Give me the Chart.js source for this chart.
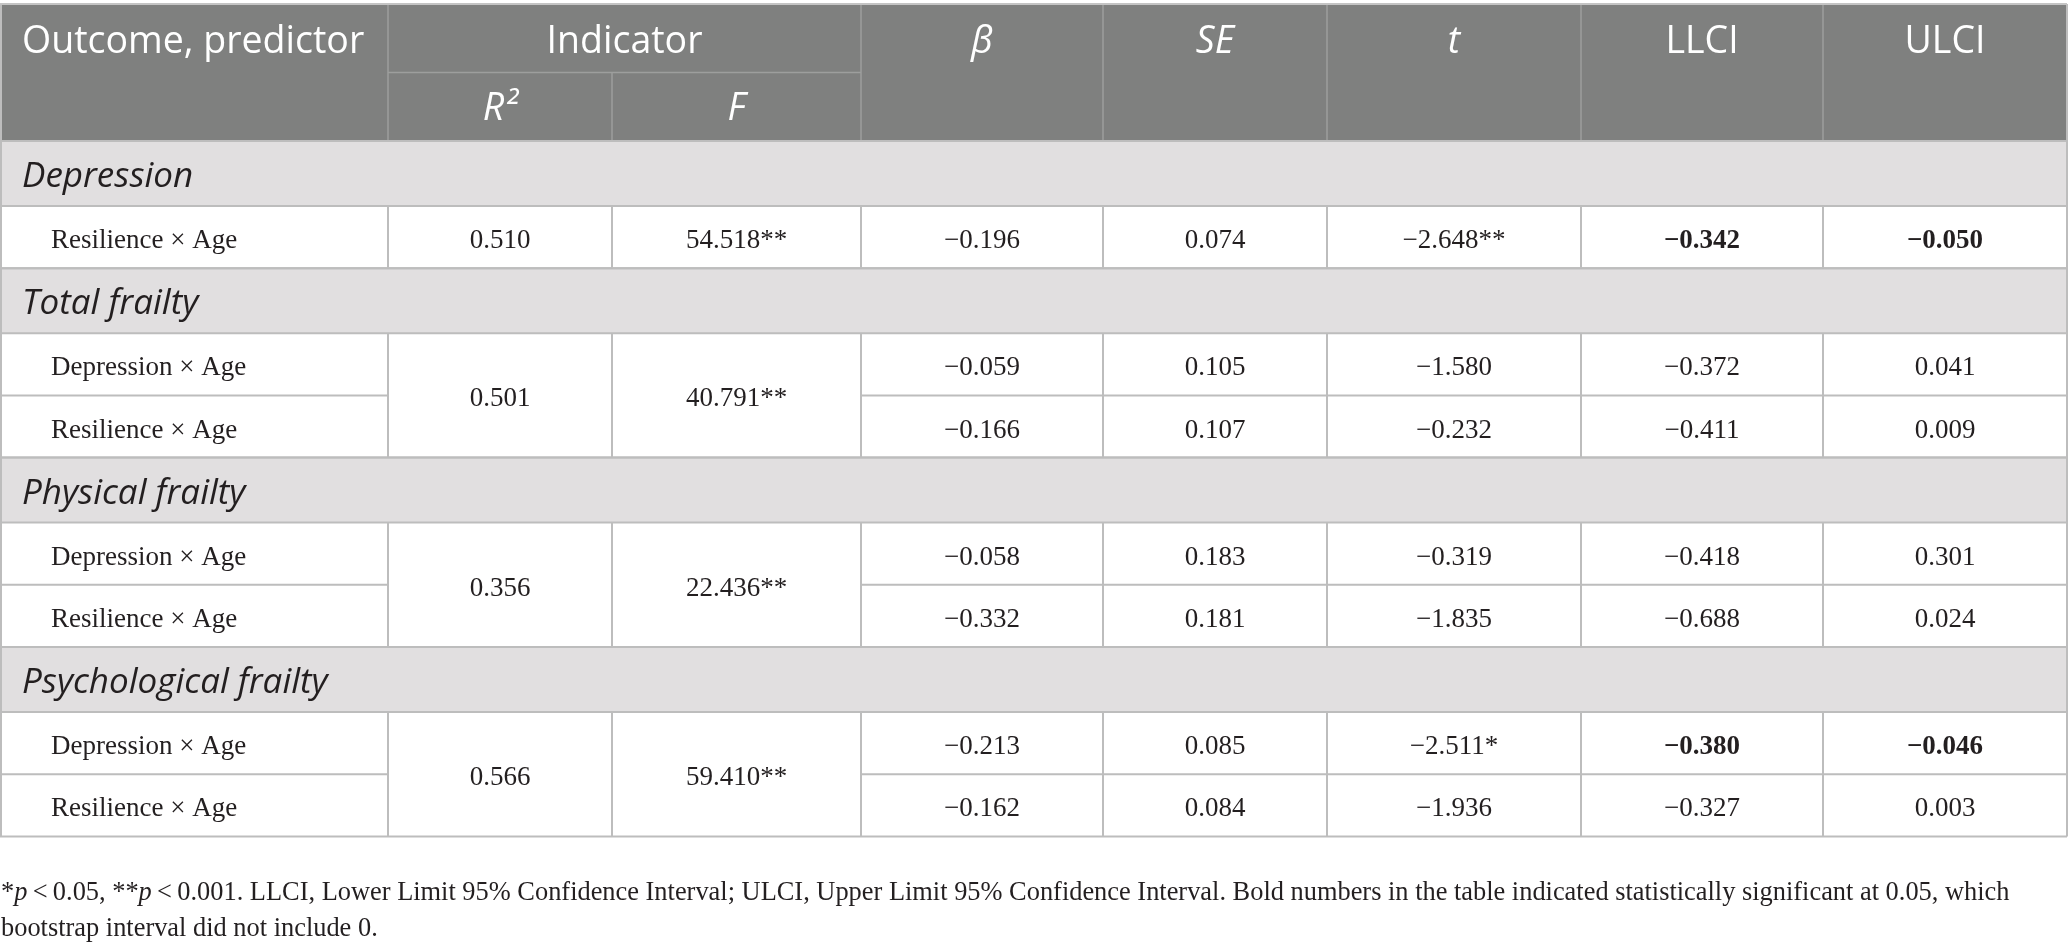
<!DOCTYPE html>
<html>
<head>
<meta charset="utf-8">
<script src="https://cdn.jsdelivr.net/npm/chart.js@4.4.1/dist/chart.umd.min.js"></script>
<style>
    html, body { margin: 0; padding: 0; background: #ffffff; }
    #wrap { width: 2068px; height: 951px; position: relative; }
</style>
</head>
<body>
<div id="wrap"><canvas id="tableChart"></canvas></div>
<script>
// table content
const headerTop = ["Outcome, predictor", "Indicator", "β", "SE", "t", "LLCI", "ULCI"];
const headerSub = ["R²", "F"];
const groups = ["Depression", "Total frailty", "Physical frailty", "Psychological frailty"];
const predictors = [
    ["Resilience × Age"],
    ["Depression × Age", "Resilience × Age"],
    ["Depression × Age", "Resilience × Age"],
    ["Depression × Age", "Resilience × Age"]
];
const rSquared = [0.510, 0.501, 0.356, 0.566];
const fValues = [54.518, 40.791, 22.436, 59.410];
const fStars = ["**", "**", "**", "**"];
const betas = [[-0.196], [-0.059, -0.166], [-0.058, -0.332], [-0.213, -0.162]];
const seValues = [[0.074], [0.105, 0.107], [0.183, 0.181], [0.085, 0.084]];
const tValues = [[-2.648], [-1.580, -0.232], [-0.319, -1.835], [-2.511, -1.936]];
const tStars = [["**"], ["", ""], ["", ""], ["*", ""]];
const llci = [[-0.342], [-0.372, -0.411], [-0.418, -0.688], [-0.380, -0.327]];
const ulci = [[-0.050], [0.041, 0.009], [0.301, 0.024], [-0.046, 0.003]];
const significant = [[true], [false, false], [false, false], [true, false]];
const footnote = [
    [["*"], ["p", "i"], ["\u2009<\u20090.05, **"], ["p", "i"],
     ["\u2009<\u20090.001. LLCI, Lower Limit 95% Confidence Interval; ULCI, Upper Limit 95% Confidence Interval. Bold numbers in the table indicated statistically significant at 0.05, which"]],
    [["bootstrap interval did not include 0."]]
];

// layout (in table units, mapped through the chart scales)
const colEdges = [0, 388, 612, 861, 1103, 1327, 1581, 1823, 2067];
const tableTop = 4;
const headerSplit = 72.5;
const headerBottom = 141;
const groupHeight = 65;
const rowHeight = 62.2;

const fmt = v => (v < 0 ? "\u2212" : "") + Math.abs(v).toFixed(3);

const serif = "'Liberation Serif', 'Times New Roman', serif";
const sans = "'Open Sans', 'Noto Sans', sans-serif";
const textColor = "#231f20";
const borderColor = "#bdbdbd";

const tablePainter = {
    id: "tablePainter",
    afterDraw(chart) {
        const ctx = chart.ctx;
        const sx = chart.scales.x;
        const sy = chart.scales.y;
        const X = v => sx.getPixelForValue(v);
        const Y = v => sy.getPixelForValue(v);
        const left = X(colEdges[0]);
        const right = X(colEdges[colEdges.length - 1]);
        const mid = i => (X(colEdges[i]) + X(colEdges[i + 1])) / 2;

        function line(x1, y1, x2, y2, color, w) {
            ctx.beginPath();
            ctx.strokeStyle = color;
            ctx.lineWidth = w;
            ctx.moveTo(x1, y1);
            ctx.lineTo(x2, y2);
            ctx.stroke();
        }
        function text(str, x, y, font, color, align) {
            ctx.font = font;
            ctx.fillStyle = color;
            ctx.textAlign = align || "center";
            ctx.textBaseline = "alphabetic";
            ctx.fillText(str, x, y);
        }

        ctx.save();

        // header block
        ctx.fillStyle = "#7f807f";
        ctx.fillRect(left, Y(tableTop), right - left, Y(headerBottom) - Y(tableTop));
        const hl = "#9d9e9d";
        [1, 3, 4, 5, 6, 7].forEach(i => line(X(colEdges[i]), Y(tableTop), X(colEdges[i]), Y(headerBottom), hl, 1.5));
        line(X(colEdges[2]), Y(headerSplit), X(colEdges[2]), Y(headerBottom), hl, 1.5);
        line(X(colEdges[1]), Y(headerSplit), X(colEdges[3]), Y(headerSplit), hl, 1.5);

        const hFont = "37.5px " + sans;
        const hItalic = "italic 37.5px " + sans;
        text(headerTop[0], X(22), Y(53), hFont, "#ffffff", "left");
        text(headerTop[1], (X(colEdges[1]) + X(colEdges[3])) / 2, Y(53), hFont, "#ffffff");
        text(headerTop[2], mid(3), Y(53), hItalic, "#ffffff");
        text(headerTop[3], mid(4), Y(53), hItalic, "#ffffff");
        text(headerTop[4], mid(5), Y(53), hItalic, "#ffffff");
        text(headerTop[5], mid(6), Y(53), hFont, "#ffffff");
        text(headerTop[6], mid(7), Y(53), hFont, "#ffffff");
        text(headerSub[0], mid(1), Y(120), hItalic, "#ffffff");
        text(headerSub[1], mid(2), Y(120), hItalic, "#ffffff");

        // body
        const bodyFont = "27px " + serif;
        const boldFont = "bold 27px " + serif;
        const groupFont = "italic 35px " + sans;
        let top = headerBottom;
        const hLines = [];
        const vSegs = [];
        groups.forEach((g, gi) => {
            ctx.fillStyle = "#e1dfe0";
            ctx.fillRect(left, Y(top), right - left, Y(top + groupHeight) - Y(top));
            text(g, X(22), Y(top + 46), groupFont, textColor, "left");
            hLines.push([top, colEdges[0], colEdges[8]]);
            top += groupHeight;
            hLines.push([top, colEdges[0], colEdges[8]]);
            const n = predictors[gi].length;
            const blockTop = top;
            predictors[gi].forEach((p, ri) => {
                const base = Y(top + rowHeight / 2 + 11);
                text(p, X(51), base, bodyFont, textColor, "left");
                text(fmt(betas[gi][ri]), mid(3), base, bodyFont, textColor);
                text(fmt(seValues[gi][ri]), mid(4), base, bodyFont, textColor);
                text(fmt(tValues[gi][ri]) + tStars[gi][ri], mid(5), base, bodyFont, textColor);
                const f = significant[gi][ri] ? boldFont : bodyFont;
                text(fmt(llci[gi][ri]), mid(6), base, f, textColor);
                text(fmt(ulci[gi][ri]), mid(7), base, f, textColor);
                top += rowHeight;
                if (ri < n - 1) {
                    hLines.push([top, colEdges[0], colEdges[1]]);
                    hLines.push([top, colEdges[3], colEdges[8]]);
                }
            });
            const blockBase = Y((blockTop + top) / 2 + 11);
            text(fmt(rSquared[gi]), mid(1), blockBase, bodyFont, textColor);
            text(fmt(fValues[gi]) + fStars[gi], mid(2), blockBase, bodyFont, textColor);
            vSegs.push([blockTop, top]);
            hLines.push([top, colEdges[0], colEdges[8]]);
        });

        hLines.forEach(h => line(X(h[1]), Y(h[0]), X(h[2]), Y(h[0]), borderColor, 2));
        vSegs.forEach(s => {
            colEdges.slice(1, 8).forEach(c => line(X(c), Y(s[0]), X(c), Y(s[1]), borderColor, 2));
        });
        // outer frame
        line(left + 1, Y(tableTop), left + 1, Y(top), borderColor, 2);
        line(right, Y(tableTop), right, Y(top), borderColor, 2);
        line(left, Y(tableTop), right, Y(tableTop), "#c4c4c4", 2);

        // footnote
        const noteBase = [900, 936];
        footnote.forEach((runs, li) => {
            let x = X(1);
            runs.forEach(r => {
                ctx.font = (r[1] === "i" ? "italic " : "") + "26.4px " + serif;
                ctx.fillStyle = textColor;
                ctx.textAlign = "left";
                ctx.fillText(r[0], x, Y(noteBase[li]));
                x += ctx.measureText(r[0]).width;
            });
        });

        ctx.restore();
    }
};

new Chart(document.getElementById("tableChart").getContext("2d"), {
    type: "scatter",
    data: { datasets: [{ data: [], pointRadius: 0 }] },
    options: {
        responsive: true,
        maintainAspectRatio: false,
        animation: false,
        layout: { padding: 0 },
        plugins: { legend: { display: false }, tooltip: { enabled: false } },
        scales: {
            x: { type: "linear", min: 0, max: 2068, display: false },
            y: { type: "linear", min: 0, max: 951, reverse: true, display: false }
        }
    },
    plugins: [tablePainter]
});
</script>
</body>
</html>
